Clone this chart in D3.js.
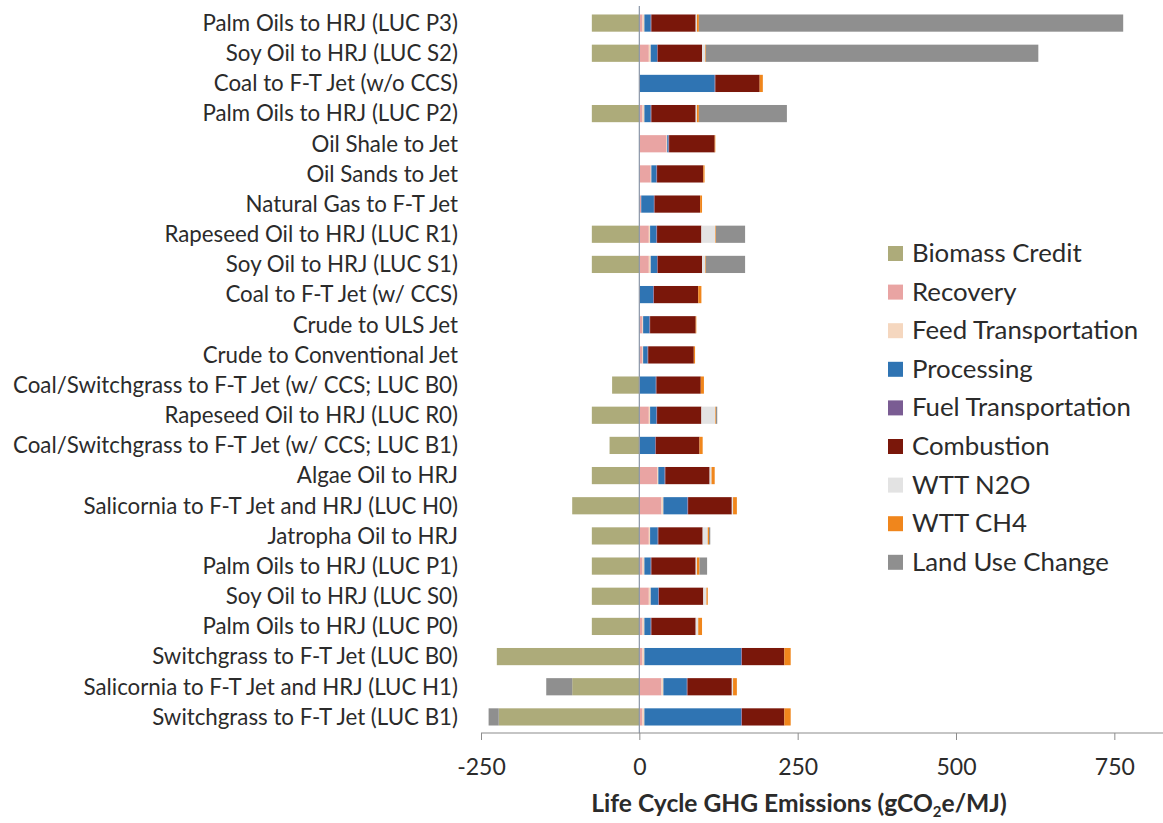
<!DOCTYPE html>
<html>
<head>
<meta charset="utf-8">
<script src="https://cdn.jsdelivr.net/npm/d3@7"></script>
<style>
  html, body { margin: 0; padding: 0; background: #fff; }
  svg { display: block; }
  text { font-family: Lato, "Open Sans", sans-serif; fill: #2b2b2b; }
</style>
</head>
<body>
<svg id="chart" width="1163" height="823"></svg>
<script>
// ---------- DATA ----------
const categories = [
  "Palm Oils to HRJ (LUC P3)",
  "Soy Oil to HRJ (LUC S2)",
  "Coal to F-T Jet (w/o CCS)",
  "Palm Oils to HRJ (LUC P2)",
  "Oil Shale to Jet",
  "Oil Sands to Jet",
  "Natural Gas to F-T Jet",
  "Rapeseed Oil to HRJ (LUC R1)",
  "Soy Oil to HRJ (LUC S1)",
  "Coal to F-T Jet (w/ CCS)",
  "Crude to ULS Jet",
  "Crude to Conventional Jet",
  "Coal/Switchgrass to F-T Jet (w/ CCS; LUC B0)",
  "Rapeseed Oil to HRJ (LUC R0)",
  "Coal/Switchgrass to F-T Jet (w/ CCS; LUC B1)",
  "Algae Oil to HRJ",
  "Salicornia to F-T Jet and HRJ (LUC H0)",
  "Jatropha Oil to HRJ",
  "Palm Oils to HRJ (LUC P1)",
  "Soy Oil to HRJ (LUC S0)",
  "Palm Oils to HRJ (LUC P0)",
  "Switchgrass to F-T Jet (LUC B0)",
  "Salicornia to F-T Jet and HRJ (LUC H1)",
  "Switchgrass to F-T Jet (LUC B1)"
];

const seriesNames = ["Biomass Credit", "Recovery", "Feed Transportation", "Processing",
  "Fuel Transportation", "Combustion", "WTT N2O", "WTT CH4", "Land Use Change"];

const biomassCredit      = [-75, -75, 0, -75, 0, 0, 0, -75, -75, 0, 0, 0, -43, -75, -47, -75, -106, -75, -75, -75, -75, -225, -106, -222];
const recovery           = [5, 15, 0, 5, 43, 18, 3, 15, 15, 0, 5, 5, 0, 15, 0, 28, 35, 15, 5, 15, 5, 5, 35, 5];
const feedTransportation = [3, 3, 1, 3, 1, 1, 0, 2, 3, 1, 1, 1, 1, 2, 1, 2, 3, 2, 3, 3, 3, 3, 3, 3];
const processing         = [10, 10, 118, 10, 2, 8, 20, 10, 10, 21, 10, 7, 25, 10, 24, 10, 38, 12, 10, 12, 10, 153, 37, 153];
const fuelTransportation = [1, 1, 1, 1, 1, 1, 1, 1, 1, 1, 1, 1, 1, 1, 1, 1, 1, 1, 1, 1, 1, 1, 1, 1];
const combustion         = [70, 70, 70, 70, 72, 73, 72, 70, 70, 70, 72, 72, 70, 70, 69, 70, 69, 70, 70, 70, 70, 67, 70, 67];
const wttN2O             = [2, 5, 0, 2, 0, 0, 0, 22, 5, 0, 0, 0, 0, 22, 0, 3, 2, 8, 2, 5, 4, 0, 2, 0];
const wttCH4             = [3, 1, 5, 3, 1, 2, 3, 1, 1, 5, 1, 2, 5, 1, 5, 5, 6, 2, 4, 2, 6, 10, 6, 10];
const landUseChange      = [670, 525, 0, 139, 0, 0, 0, 46, 62, 0, 0, 0, 0, 2, 0, 0, 0, 2, 12, 0, 0, 0, -41, -16];

const colors = ["#adab7a", "#e9a4a3", "#f5d7bf", "#2f74b3", "#7a5c93", "#7a170a", "#e3e3e3", "#f0861c", "#8f8f8f"];

const xTicks = [-250, 0, 250, 500, 750];

// ---------- BUILD ----------
const cols = [biomassCredit, recovery, feedTransportation, processing, fuelTransportation,
  combustion, wttN2O, wttCH4, landUseChange];
const table = categories.map((c, i) => {
  const row = { category: c };
  seriesNames.forEach((s, j) => row[s] = cols[j][i]);
  return row;
});

const svg = d3.select("#chart");
const x = d3.scaleLinear().domain([-250, 830]).range([481, 1165]);
const y = d3.scaleBand().domain(categories).range([8, 732]).paddingInner(0.43).paddingOuter(0.215);
const color = d3.scaleOrdinal().domain(seriesNames).range(colors);

const stack = d3.stack().keys(seriesNames).offset(d3.stackOffsetDiverging);
const stacked = stack(table);

const g = svg.append("g");
g.selectAll("g.series")
  .data(stacked)
  .join("g")
  .attr("class", "series")
  .attr("fill", d => color(d.key))
  .selectAll("rect")
  .data(d => d)
  .join("rect")
  .attr("x", d => x(Math.min(d[0], d[1])))
  .attr("width", d => Math.abs(x(d[1]) - x(d[0])))
  .attr("y", d => y(d.data.category))
  .attr("height", y.bandwidth());

// zero line
svg.append("line")
  .attr("x1", x(0)).attr("x2", x(0))
  .attr("y1", 6).attr("y2", 733)
  .attr("stroke", "#8a96a8").attr("stroke-width", 1.2);

// x axis
const xAxis = d3.axisBottom(x).tickValues(xTicks).tickSize(7).tickPadding(19).tickFormat(d => String(d));
const ax = svg.append("g").attr("transform", "translate(0,733)").call(xAxis);
ax.select(".domain").attr("stroke", "#8c8c8c").attr("stroke-width", 1.2)
  .attr("d", `M${x(-250)},0H1163`);
ax.selectAll(".tick line").attr("stroke", "#8c8c8c");
ax.selectAll(".tick text").style("font-size", "23px").style("fill", "#2b2b2b")
  .style("font-family", "Lato, sans-serif");

// category labels
svg.append("g").selectAll("text")
  .data(categories)
  .join("text")
  .attr("x", 458)
  .attr("y", d => y(d) + y.bandwidth() / 2)
  .attr("dy", "0.35em")
  .attr("text-anchor", "end")
  .style("font-size", "22.3px")
  .text(d => d);

// axis title
const title = svg.append("text")
  .attr("x", 799).attr("y", 812)
  .attr("text-anchor", "middle")
  .style("font-size", "24.6px").style("font-weight", "bold");
title.append("tspan").text("Life Cycle GHG Emissions (gCO");
title.append("tspan").attr("dy", 5).style("font-size", "15px").text("2");
title.append("tspan").attr("dy", -5).text("e/MJ)");

// legend
const lg = svg.append("g").attr("transform", "translate(888,253)");
const items = lg.selectAll("g").data(seriesNames).join("g")
  .attr("transform", (d, i) => `translate(0,${i * 38.6})`);
items.append("rect").attr("x", 0).attr("y", -7).attr("width", 15).attr("height", 15)
  .attr("fill", d => color(d));
items.append("text").attr("x", 24).attr("dy", "0.35em")
  .style("font-size", "25.8px").text(d => d);
</script>
</body>
</html>
